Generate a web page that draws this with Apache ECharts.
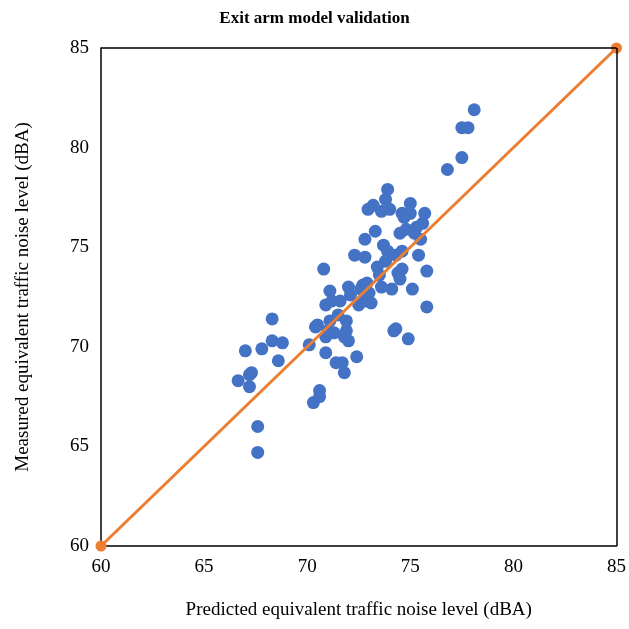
<!DOCTYPE html><html><head><meta charset="utf-8"><script src="https://cdn.jsdelivr.net/npm/echarts@6/dist/echarts.min.js"></script></head><body style="margin:0;overflow:hidden"><div id="c" style="width:629px;height:629px"></div><script>
const predicted=[66.65,67.0,67.2,67.3,67.2,67.6,67.6,67.8,68.3,68.3,68.6,68.8,70.1,70.3,70.4,70.5,70.6,70.6,70.8,70.9,70.9,70.9,71.0,71.1,71.1,71.2,71.3,71.4,71.5,71.6,71.7,71.8,71.8,71.9,71.9,72.0,72.0,72.1,72.3,72.4,72.5,72.6,72.7,72.8,72.8,72.8,72.9,72.95,73.0,73.1,73.2,73.3,73.4,73.5,73.6,73.6,73.7,73.8,73.8,73.9,73.9,74.0,74.1,74.2,74.3,74.3,74.4,74.5,74.5,74.6,74.6,74.6,74.7,74.8,74.9,75.0,75.0,75.1,75.2,75.3,75.4,75.5,75.6,75.7,75.8,75.8,76.8,77.5,77.5,77.8,78.1];
const measured=[68.3,69.8,68.6,68.7,68.0,66.0,64.7,69.9,70.3,71.4,69.3,70.2,70.1,67.2,71.0,71.1,67.5,67.8,73.9,69.7,72.1,70.5,70.8,71.3,72.8,72.3,70.7,69.2,71.6,72.3,69.2,70.5,68.7,71.3,70.8,70.3,73.0,72.6,74.6,69.5,72.1,72.9,73.1,72.3,74.5,75.4,73.2,76.9,72.7,72.2,77.1,75.8,74.0,73.6,73.0,76.8,75.1,74.3,77.4,77.9,74.8,76.9,72.9,70.8,74.6,70.9,73.7,75.7,73.4,76.7,74.8,73.9,76.5,75.9,70.4,76.7,77.2,72.9,75.7,76.0,74.6,75.4,76.2,76.7,72.0,73.8,78.9,79.5,81.0,81.0,81.9];
const lineX=[60,85], lineY=[60,85];
const ticks=[60,65,70,75,80,85];
const ax={min:60,max:85,interval:5,axisLine:{lineStyle:{color:'#000',width:1.5}},axisTick:{show:false},splitLine:{show:false},axisLabel:{color:'#000',fontFamily:'Liberation Serif',fontSize:19,margin:12},nameLocation:'middle',nameTextStyle:{color:'#000',fontFamily:'Liberation Serif',fontSize:19}};
const ch=echarts.init(document.getElementById('c'));
ch.setOption({animation:false,
title:{text:'Exit arm model validation',left:'center',top:5,textStyle:{fontFamily:'Liberation Serif',fontSize:17,fontWeight:'bold',color:'#000'}},
grid:{left:101,right:6,top:48,bottom:83},
xAxis:Object.assign({},ax,{name:'Predicted equivalent traffic noise level (dBA)',nameGap:55}),
yAxis:Object.assign({},ax,{name:'Measured equivalent traffic noise level (dBA)',nameGap:68}),
series:[{type:'scatter',data:predicted.map((v,i)=>[v,measured[i]]),symbolSize:13,itemStyle:{color:'#4472C4',opacity:1}},
{type:'line',data:lineX.map((v,i)=>[v,lineY[i]]),symbol:'circle',symbolSize:11,lineStyle:{color:'#ED7D31',width:3},itemStyle:{color:'#ED7D31'}},
{type:'line',data:[],markLine:{silent:true,symbol:'none',label:{show:false},lineStyle:{color:'#000',width:1.5,type:'solid'},data:[{yAxis:85},{xAxis:85}]}}]});
</script></body></html>
